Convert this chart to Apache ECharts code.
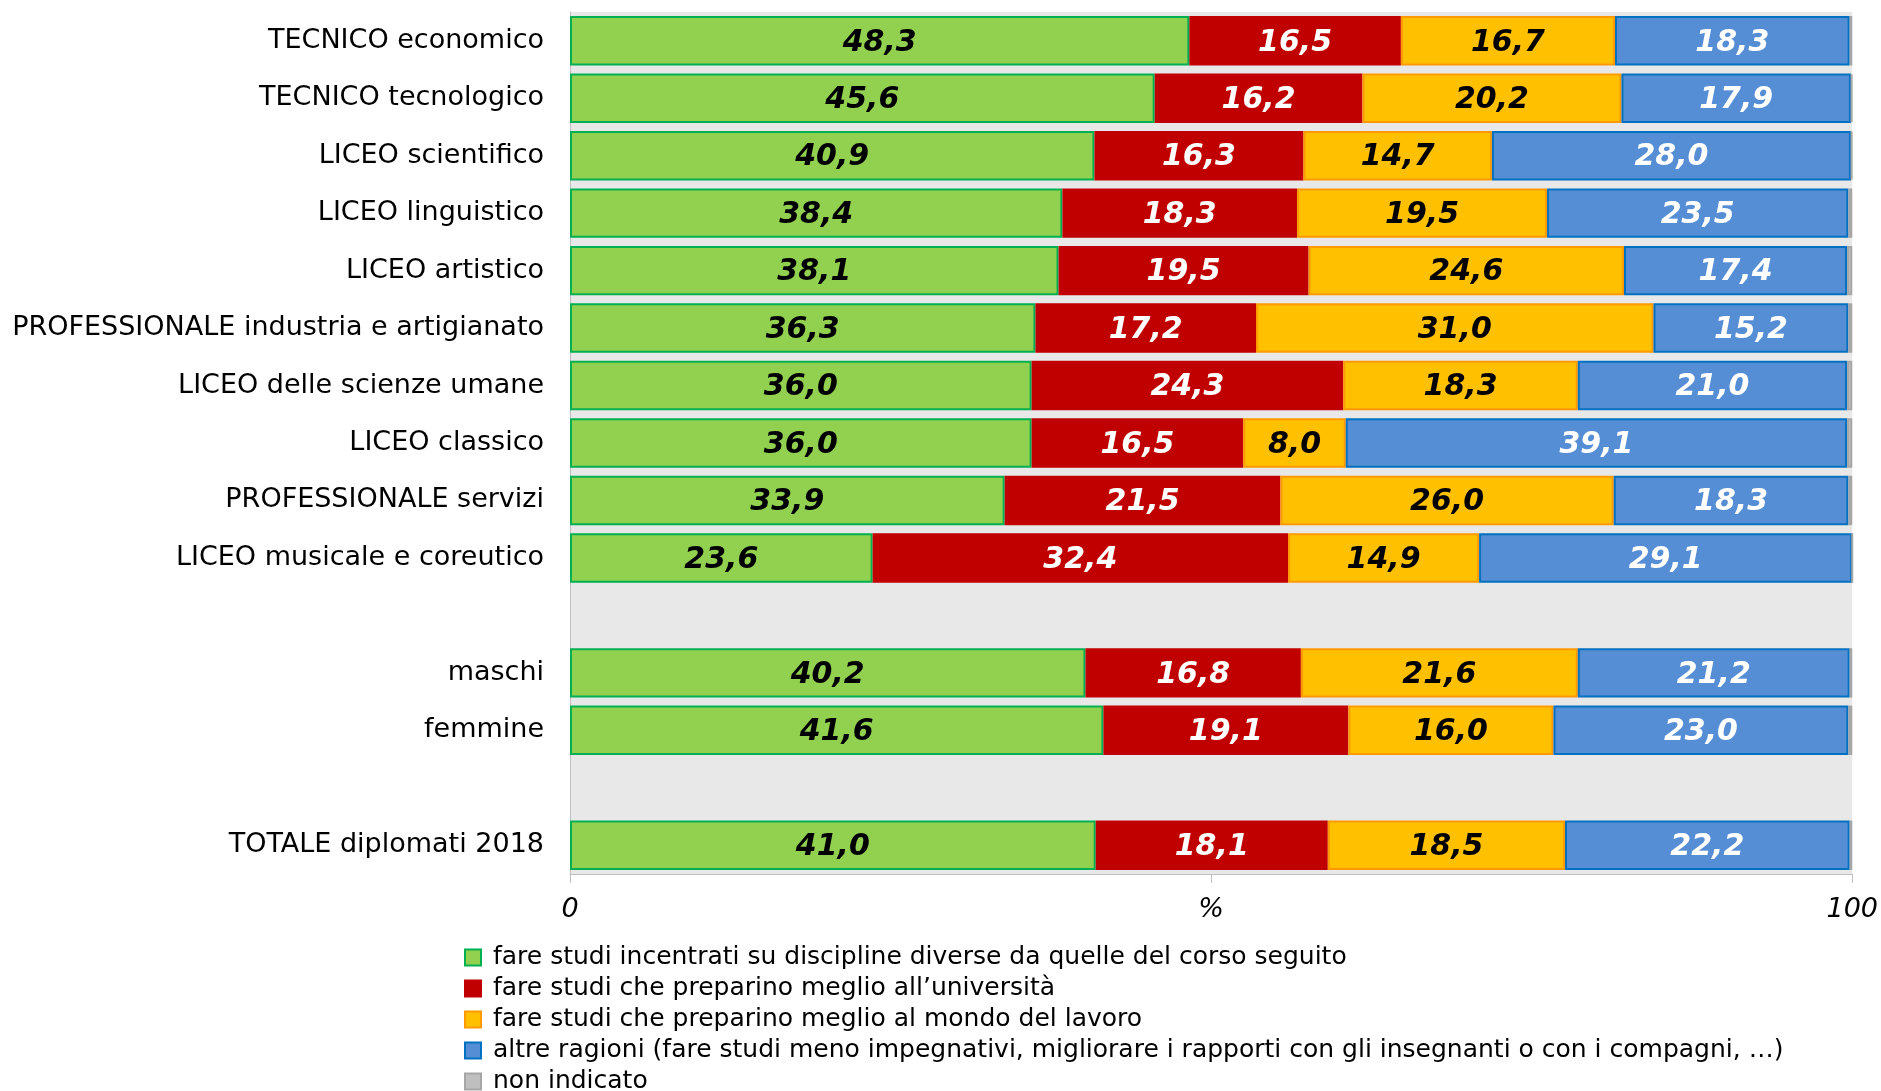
<!DOCTYPE html>
<html>
<head>
<meta charset="utf-8">
<title>Motivi della scelta</title>
<script src="https://cdn.jsdelivr.net/npm/echarts@6/dist/echarts.min.js"></script>
<style>
  html, body { margin: 0; padding: 0; background: #fff; }
  #chart { width: 1881px; height: 1091px; }
</style>
</head>
<body>
<div id="chart"></div>
<script>
  // righe vuote = separatori fra i gruppi
  var categorie = [
    'TECNICO economico',
    'TECNICO tecnologico',
    'LICEO scientifico',
    'LICEO linguistico',
    'LICEO artistico',
    'PROFESSIONALE industria e artigianato',
    'LICEO delle scienze umane',
    'LICEO classico',
    'PROFESSIONALE servizi',
    'LICEO musicale e coreutico',
    ' ',
    'maschi',
    'femmine',
    '  ',
    'TOTALE diplomati 2018'
  ]

  var discipline = [48.3, 45.6, 40.9, 38.4, 38.1, 36.3, 36.0, 36.0, 33.9, 23.6, null, 40.2, 41.6, null, 41.0]
  var universita = [16.5, 16.2, 16.3, 18.3, 19.5, 17.2, 24.3, 16.5, 21.5, 32.4, null, 16.8, 19.1, null, 18.1]
  var lavoro = [16.7, 20.2, 14.7, 19.5, 24.6, 31.0, 18.3, 8.0, 26.0, 14.9, null, 21.6, 16.0, null, 18.5]
  var altre = [18.3, 17.9, 28.0, 23.5, 17.4, 15.2, 21.0, 39.1, 18.3, 29.1, null, 21.2, 23.0, null, 22.2]
  var nonIndicato = [0.2, 0.1, 0.1, 0.3, 0.4, 0.3, 0.4, 0.4, 0.3, 0.0, null, 0.2, 0.3, null, 0.2]

  var font = '"DejaVu Sans", Verdana, sans-serif'

  function etichetta(colore) {
    return {
      show: true,
      position: 'inside',
      offset: [0, 2],
      color: colore,
      fontFamily: font,
      fontSize: 30,
      fontWeight: 'bold',
      fontStyle: 'italic',
      formatter: function (p) {
        return p.value == null ? '' : p.value.toFixed(1).replace('.', ',')
      }
    }
  }

  function serie(nome, dati, fill, bordo, colLabel) {
    return {
      name: nome,
      type: 'bar',
      stack: 'tot',
      data: dati,
      barCategoryGap: '14%',
      itemStyle: {
        color: fill,
        borderColor: bordo,
        borderWidth: 2
      },
      label: colLabel ? etichetta(colLabel) : { show: false },
      emphasis: { disabled: true }
    }
  }

  var chart = echarts.init(document.getElementById('chart'))
  chart.setOption({
    animation: false,
    backgroundColor: '#fff',
    grid: {
      left: 570,
      right: 28,
      top: 12,
      bottom: 217,
      show: true,
      backgroundColor: '#e8e8e8',
      borderWidth: 0
    },
    legend: {
      orient: 'vertical',
      left: 464,
      top: 945,
      height: 200,
      padding: 0,
      itemWidth: 16,
      itemHeight: 16,
      itemGap: 6,
      icon: 'rect',
      textStyle: {
        fontFamily: font,
        fontSize: 25,
        color: '#000',
        lineHeight: 25,
        padding: [0, 0, 0, 7]
      },
      data: [
        'fare studi incentrati su discipline diverse da quelle del corso seguito',
        'fare studi che preparino meglio all\u2019università',
        'fare studi che preparino meglio al mondo del lavoro',
        'altre ragioni (fare studi meno impegnativi, migliorare i rapporti con gli insegnanti o con i compagni, \u2026)',
        'non indicato'
      ]
    },
    xAxis: {
      type: 'value',
      min: 0,
      max: 100,
      interval: 50,
      splitLine: { show: false },
      axisLine: { show: true, lineStyle: { color: '#bfbfbf', width: 1 } },
      axisTick: { show: true, length: 9, lineStyle: { color: '#bfbfbf' } },
      axisLabel: {
        margin: 22,
        fontFamily: font,
        fontSize: 27,
        fontStyle: 'italic',
        color: '#000',
        formatter: function (v) {
          return v === 50 ? '%' : String(v)
        }
      }
    },
    yAxis: {
      type: 'category',
      inverse: true,
      data: categorie,
      axisTick: { show: false },
      axisLine: { show: true, lineStyle: { color: '#bfbfbf' } },
      axisLabel: {
        margin: 26,
        fontFamily: font,
        fontSize: 27,
        color: '#000',
        padding: [8, 0, 0, 0]
      }
    },
    series: [
      serie('fare studi incentrati su discipline diverse da quelle del corso seguito', discipline, '#92d050', '#00b050', '#000'),
      serie('fare studi che preparino meglio all\u2019università', universita, '#c00000', '#c00000', '#fff'),
      serie('fare studi che preparino meglio al mondo del lavoro', lavoro, '#ffc000', '#ff9900', '#000'),
      serie('altre ragioni (fare studi meno impegnativi, migliorare i rapporti con gli insegnanti o con i compagni, \u2026)', altre, '#558ed5', '#0070c0', '#fff'),
      serie('non indicato', nonIndicato, '#bfbfbf', '#a6a6a6', null)
    ]
  })
</script>
</body>
</html>
